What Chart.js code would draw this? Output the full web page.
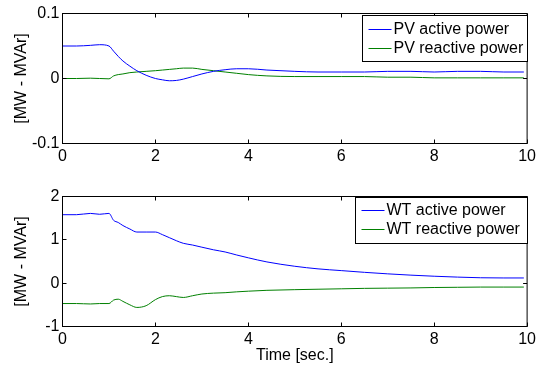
<!DOCTYPE html>
<html>
<head>
<meta charset="utf-8">
<script src="https://cdn.jsdelivr.net/npm/chart.js@4.4.1/dist/chart.umd.min.js"></script>
<style>
  html, body { margin: 0; padding: 0; background: #fff; }
  #wrap { position: relative; width: 539px; height: 366px; }
  canvas { position: absolute; left: 0; }
</style>
</head>
<body>
<div id="wrap">
  <canvas id="pv_canvas" width="539" height="183" style="top:0px"></canvas>
  <canvas id="wt_canvas" width="539" height="183" style="top:183px"></canvas>
</div>
<script>
"use strict";
// time axis (sec.), shared by all four series
const time = [0, 0.3, 0.6, 0.8, 1.0, 1.1, 1.2, 1.3, 1.45, 1.6, 1.8, 2.0, 2.15, 2.3, 2.45, 2.6, 2.8, 3.0,
  3.25, 3.5, 3.75, 4.0, 4.4, 5.0, 5.5, 6.0, 6.5, 7.0, 7.5, 8.0, 8.5, 9.0, 9.5, 9.93];

const pv_active = [0.050, 0.050, 0.051, 0.052, 0.050, 0.042, 0.034, 0.027, 0.019, 0.012, 0.005, 0.000,
  -0.002, -0.0035, -0.003, -0.001, 0.003, 0.007, 0.011, 0.0135, 0.015, 0.015, 0.013, 0.011, 0.010,
  0.010, 0.010, 0.011, 0.011, 0.010, 0.011, 0.011, 0.010, 0.010];
const pv_reactive = [0.000, 0.000, 0.0005, 0.000, -0.0005, 0.004, 0.006, 0.007, 0.009, 0.010, 0.011,
  0.012, 0.013, 0.014, 0.015, 0.016, 0.016, 0.014, 0.012, 0.010, 0.008, 0.006, 0.004, 0.003, 0.003,
  0.003, 0.003, 0.002, 0.002, 0.001, 0.001, 0.001, 0.001, 0.001];

const wt_active = [1.58, 1.58, 1.61, 1.59, 1.61, 1.45, 1.40, 1.33, 1.25, 1.18, 1.18, 1.18, 1.12, 1.05,
  0.98, 0.92, 0.88, 0.83, 0.77, 0.72, 0.65, 0.585, 0.49, 0.39, 0.33, 0.29, 0.25, 0.215, 0.185, 0.16,
  0.14, 0.125, 0.12, 0.12];
const wt_reactive = [-0.47, -0.47, -0.48, -0.47, -0.47, -0.39, -0.37, -0.42, -0.50, -0.56, -0.52,
  -0.38, -0.31, -0.29, -0.31, -0.33, -0.29, -0.25, -0.23, -0.22, -0.20, -0.185, -0.165, -0.15, -0.14,
  -0.13, -0.12, -0.115, -0.11, -0.10, -0.095, -0.09, -0.09, -0.09];

const x_ticks = [0, 2, 4, 6, 8, 10];
const pv_y_ticks = [-0.1, 0, 0.1];
const wt_y_ticks = [-1, 0, 1, 2];

const font_family = "'Liberation Sans', Arial, sans-serif";
Chart.defaults.color = "#000";
Chart.defaults.font.family = font_family;
Chart.defaults.font.size = 16;

function points(values) {
  return values.map((v, i) => ({ x: time[i], y: v }));
}

// box, inward ticks on all four sides and a legend inside the axes (MATLAB look)
const matlab_axes = {
  id: "matlab_axes",
  afterDraw(chart, args, opts) {
    const ctx = chart.ctx;
    const a = chart.chartArea;
    const xs = chart.scales.x;
    const ys = chart.scales.y;
    const len = 4;
    ctx.save();
    ctx.strokeStyle = "#000";
    ctx.lineWidth = 1;
    ctx.beginPath();
    xs.ticks.forEach(t => {
      const px = Math.floor(xs.getPixelForValue(t.value)) + 0.5;
      ctx.moveTo(px, a.bottom); ctx.lineTo(px, a.bottom - len);
      ctx.moveTo(px, a.top); ctx.lineTo(px, a.top + len);
    });
    ys.ticks.forEach(t => {
      const py = Math.floor(ys.getPixelForValue(t.value)) + 0.5;
      ctx.moveTo(a.left, py); ctx.lineTo(a.left + len, py);
      ctx.moveTo(a.right, py); ctx.lineTo(a.right - len, py);
    });
    ctx.stroke();
    ctx.strokeRect(a.left, a.top, a.right - a.left, a.bottom - a.top);

    const lg = opts.legend;
    ctx.fillStyle = "#fff";
    ctx.fillRect(lg.left, lg.top, lg.right - lg.left, lg.bottom - lg.top);
    ctx.strokeStyle = "#000";
    ctx.strokeRect(lg.left, lg.top, lg.right - lg.left, lg.bottom - lg.top);
    ctx.font = "16px " + font_family;
    ctx.textBaseline = "middle";
    chart.data.datasets.forEach((ds, i) => {
      const y = lg.rows[i];
      ctx.strokeStyle = ds.borderColor;
      ctx.beginPath();
      ctx.moveTo(lg.left + 6, y);
      ctx.lineTo(lg.left + 29, y);
      ctx.stroke();
      ctx.fillStyle = "#000";
      ctx.fillText(ds.label, lg.left + 31, y);
    });
    ctx.restore();
  }
};

function make_chart(canvas, sets, y_ticks, legend, x_title) {
  return new Chart(canvas, {
    type: "line",
    data: {
      datasets: sets.map(s => ({
        label: s.label,
        data: points(s.values),
        borderColor: s.color,
        borderWidth: 1,
        pointRadius: 0,
        fill: false,
        cubicInterpolationMode: "monotone"
      }))
    },
    options: {
      responsive: false,
      animation: false,
      events: [],
      layout: { padding: { top: 13.5, right: 9.5, left: 0, bottom: 0 } },
      plugins: {
        legend: { display: false },
        tooltip: { enabled: false },
        matlab_axes: { legend: legend }
      },
      scales: {
        x: {
          type: "linear",
          min: x_ticks[0],
          max: x_ticks[x_ticks.length - 1],
          afterBuildTicks: s => { s.ticks = x_ticks.map(v => ({ value: v })); },
          afterFit: s => { s.height = 39.5; },
          ticks: { padding: 3, maxRotation: 0, color: "#000", callback: v => String(v) },
          grid: { display: false, drawTicks: false },
          border: { display: false },
          title: {
            display: !!x_title,
            text: x_title || "",
            color: "#000",
            font: { size: 16 },
            padding: { top: 0, bottom: 1 }
          }
        },
        y: {
          type: "linear",
          min: y_ticks[0],
          max: y_ticks[y_ticks.length - 1],
          afterBuildTicks: s => { s.ticks = y_ticks.map(v => ({ value: v })); },
          afterFit: s => { s.width = 62.5; },
          ticks: { padding: 3, color: "#000", callback: v => String(v) },
          grid: { display: false, drawTicks: false },
          border: { display: false },
          title: {
            display: true,
            text: "[MW - MVAr]",
            color: "#000",
            font: { size: 16 },
            padding: { top: 12, bottom: 0 }
          }
        }
      }
    },
    plugins: [matlab_axes]
  });
}

make_chart(document.getElementById("pv_canvas"), [
  { label: "PV active power", values: pv_active, color: "#0000ff" },
  { label: "PV reactive power", values: pv_reactive, color: "#008000" }
], pv_y_ticks, { left: 362.5, right: 527.5, top: 15.5, bottom: 61.5, rows: [29.5, 48.5] }, null);

make_chart(document.getElementById("wt_canvas"), [
  { label: "WT active power", values: wt_active, color: "#0000ff" },
  { label: "WT reactive power", values: wt_reactive, color: "#008000" }
], wt_y_ticks, { left: 355.5, right: 527.5, top: 14.5, bottom: 60.5, rows: [27.5, 46.5] }, "Time [sec.]");
</script>
</body>
</html>
